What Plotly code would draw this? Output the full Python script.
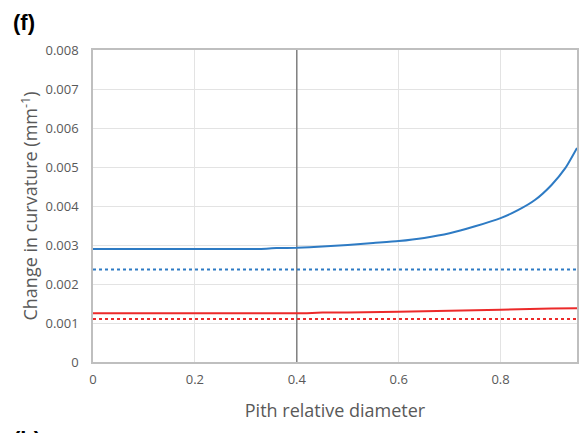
import plotly.graph_objects as go

# Data
x_blue = [0.0, 0.1, 0.2, 0.3, 0.33, 0.36, 0.4, 0.45, 0.5, 0.55, 0.6, 0.65, 0.7, 0.75, 0.8, 0.835, 0.868, 0.9, 0.927, 0.95]
y_blue = [0.00290, 0.00290, 0.00290, 0.00290, 0.00290, 0.00292, 0.00293, 0.00296, 0.00300, 0.00305, 0.00310, 0.00318, 0.00330, 0.00348, 0.00369, 0.00390, 0.00416, 0.00454, 0.00497, 0.00549]
x_red = [0.0, 0.2, 0.42, 0.45, 0.5, 0.6, 0.7, 0.8, 0.9, 0.95]
y_red = [0.00125, 0.00125, 0.00125, 0.00127, 0.00127, 0.00129, 0.00131, 0.00134, 0.00137, 0.00138]
x_ref = [0.0, 0.95]
y_blue_ref = [0.002375, 0.002375]
y_red_ref = [0.00110, 0.00110]
x_marker = [0.4, 0.4]
y_marker = [0.0, 0.008]

x_ticks = [0, 0.2, 0.4, 0.6, 0.8]
x_ticklabels = ["0", "0.2", "0.4", "0.6", "0.8"]
y_ticks = [0, 0.001, 0.002, 0.003, 0.004, 0.005, 0.006, 0.007, 0.008]
y_ticklabels = ["0", "0.001", "0.002", "0.003", "0.004", "0.005", "0.006", "0.007", "0.008"]

BLUE = "#2e7bc4"
RED = "#ec2a2a"

fig = go.Figure()
fig.add_trace(go.Scatter(x=x_marker, y=y_marker, mode="lines",
                         line=dict(color="#7f7f7f", width=1.5), hoverinfo="skip"))
fig.add_trace(go.Scatter(x=x_ref, y=y_blue_ref, mode="lines",
                         line=dict(color=BLUE, width=2, dash="dot")))
fig.add_trace(go.Scatter(x=x_ref, y=y_red_ref, mode="lines",
                         line=dict(color=RED, width=2, dash="dot")))
fig.add_trace(go.Scatter(x=x_blue, y=y_blue, mode="lines",
                         line=dict(color=BLUE, width=2, shape="spline", smoothing=0.6)))
fig.add_trace(go.Scatter(x=x_red, y=y_red, mode="lines",
                         line=dict(color=RED, width=2)))

W, H = 580, 425
L, R, T, B = 85, 9, 42, 71
PW, PH = W - L - R, H - T - B

font_family = "Open Sans, Liberation Sans, sans-serif"
fig.update_layout(
    width=W, height=H,
    margin=dict(l=L, r=R, t=T, b=B),
    paper_bgcolor="white", plot_bgcolor="white",
    showlegend=False,
    font=dict(family=font_family, color="#595959"),
    xaxis=dict(range=[0, 0.95], tickvals=x_ticks, ticktext=x_ticklabels,
               showgrid=True, gridcolor="#e3e3e3", gridwidth=1,
               showline=True, linecolor="#bfbfbf", linewidth=1.5, mirror=True,
               zeroline=False, ticks="", tickfont=dict(size=13, color="#595959"),
               ticklabelstandoff=5,
               title=dict(text="Pith relative diameter", font=dict(size=18, color="#595959"), standoff=17)),
    yaxis=dict(range=[0, 0.008], tickvals=y_ticks, ticktext=y_ticklabels,
               showgrid=True, gridcolor="#e3e3e3", gridwidth=1,
               showline=True, linecolor="#bfbfbf", linewidth=1.5, mirror=True,
               zeroline=False, ticks="", tickfont=dict(size=13, color="#595959"),
               ticklabelstandoff=10,
               title=dict(text="Change in curvature (mm<sup>-1</sup>)", font=dict(size=18, color="#595959"), standoff=3)),
    annotations=[
        dict(text="<b>(f)</b>", xref="paper", yref="paper", x=-L / PW, y=1 + T / PH,
             xanchor="left", yanchor="top", showarrow=False,
             font=dict(family="Liberation Sans, Arial, sans-serif", size=22, color="black"), xshift=3, yshift=0),
        dict(text="<b>(h)</b>", xref="paper", yref="paper", x=-L / PW, y=-(B - 8) / PH,
             xanchor="left", yanchor="top", showarrow=False,
             font=dict(family="Liberation Sans, Arial, sans-serif", size=22, color="black"), xshift=3),
    ],
)

fig.write_html("out.html")
